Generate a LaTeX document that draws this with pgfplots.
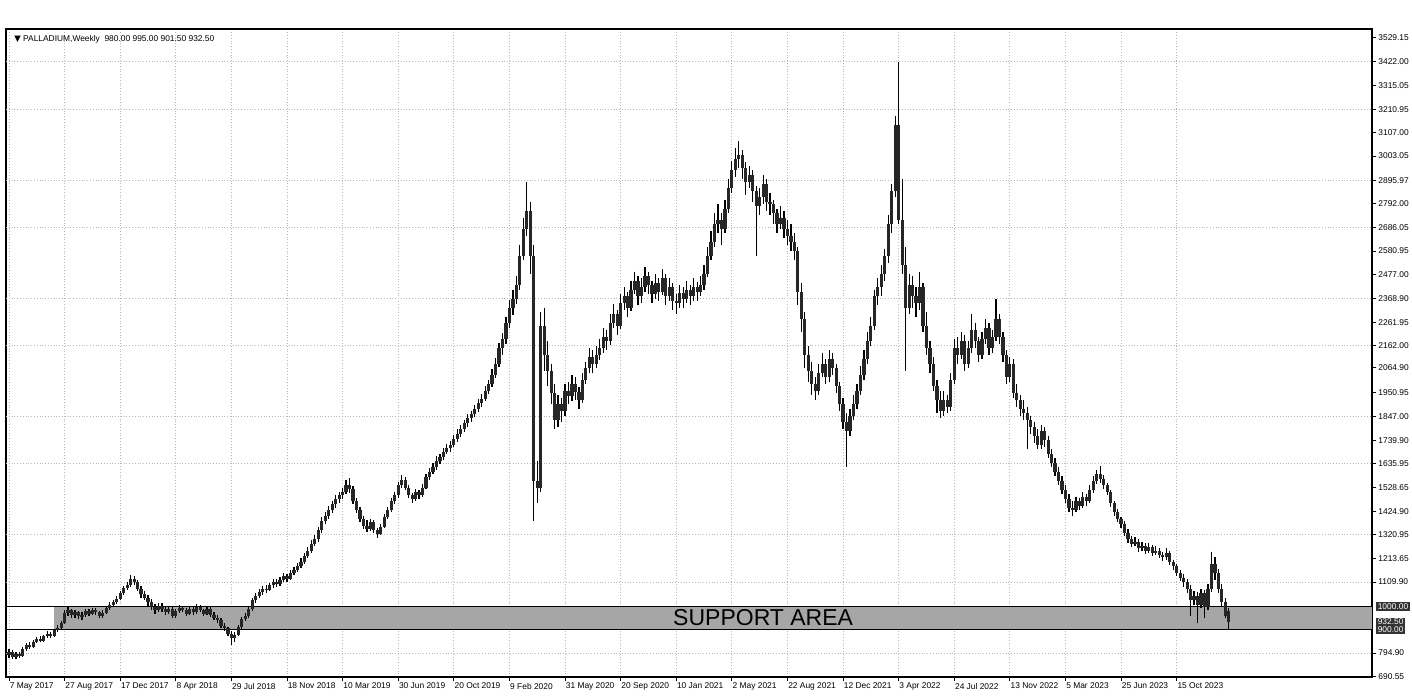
\documentclass[border=0pt]{standalone}
\usepackage{pgfplots}
\usepackage{pgfplotstable}
\pgfplotsset{compat=1.18}
\usepackage{fontspec}
\setmainfont{Liberation Sans}
\newfontfamily\symfont{DejaVu Sans}

% weekly candles: week index (0 = 7 May 2017), open, high, low, close
\pgfplotstableread{
w o h l c
0 785 812 772 800
1 800 808 768 775
2 775 798 770 790
3 790 800 772 782
4 782 820 778 812
5 812 838 805 830
6 830 842 812 822
7 822 852 818 845
8 845 866 838 858
9 858 870 842 850
10 850 876 845 868
11 868 892 860 880
12 880 888 862 872
13 872 902 866 895
14 895 918 888 905
15 905 938 898 930
16 930 985 925 972
17 972 998 960 985
18 985 992 952 965
19 965 984 948 975
20 975 982 945 958
21 958 975 940 962
22 962 992 955 980
23 980 990 958 970
24 970 996 962 985
25 985 994 962 975
26 975 982 948 960
27 960 985 952 972
28 972 1004 966 995
29 995 1022 985 1010
30 1010 1032 1000 1020
31 1020 1046 1012 1035
32 1035 1072 1028 1060
33 1060 1094 1052 1085
34 1085 1112 1075 1098
35 1098 1142 1090 1125
36 1125 1138 1098 1110
37 1110 1118 1070 1080
38 1080 1092 1040 1055
39 1055 1070 1028 1040
40 1040 1052 1005 1020
41 1020 1035 985 1000
42 1000 1012 970 985
43 985 1018 978 1005
44 1005 1015 978 990
45 990 1002 962 975
46 975 1004 968 990
47 990 998 952 960
48 960 992 950 980
49 980 1010 972 995
50 995 1004 975 985
51 985 996 960 970
52 970 1002 962 990
53 990 998 965 975
54 975 1012 968 1000
55 1000 1010 975 985
56 985 992 958 970
57 970 1002 962 990
58 990 998 955 965
59 965 975 940 950
60 950 962 928 940
61 940 950 905 915
62 915 926 892 905
63 905 912 868 880
64 880 892 832 860
65 860 888 845 875
66 875 920 868 910
67 910 955 902 945
68 945 972 935 960
69 960 998 952 990
70 990 1040 982 1030
71 1030 1062 1018 1050
72 1050 1078 1040 1065
73 1065 1092 1052 1080
74 1080 1098 1060 1075
75 1075 1106 1068 1095
76 1095 1122 1085 1110
77 1110 1125 1088 1100
78 1100 1132 1092 1120
79 1120 1148 1110 1135
80 1135 1145 1112 1125
81 1125 1162 1118 1150
82 1150 1178 1140 1165
83 1165 1195 1155 1180
84 1180 1215 1172 1200
85 1200 1238 1190 1225
86 1225 1265 1215 1250
87 1250 1295 1240 1280
88 1280 1318 1268 1300
89 1300 1355 1290 1340
90 1340 1398 1330 1380
91 1380 1422 1368 1405
92 1405 1448 1392 1430
93 1430 1472 1418 1455
94 1455 1498 1440 1480
95 1480 1512 1462 1495
96 1495 1530 1478 1510
97 1510 1565 1500 1540
98 1540 1572 1505 1525
99 1525 1535 1455 1470
100 1470 1482 1415 1430
101 1430 1445 1375 1390
102 1390 1405 1345 1360
103 1360 1385 1332 1345
104 1345 1392 1338 1375
105 1375 1386 1328 1340
106 1340 1352 1305 1325
107 1325 1368 1318 1355
108 1355 1412 1348 1400
109 1400 1445 1390 1430
110 1430 1482 1420 1470
111 1470 1510 1458 1495
112 1495 1555 1485 1540
113 1540 1585 1528 1565
114 1565 1575 1518 1530
115 1530 1542 1482 1495
116 1495 1505 1460 1480
117 1480 1522 1470 1510
118 1510 1520 1478 1495
119 1495 1545 1488 1530
120 1530 1590 1522 1575
121 1575 1615 1565 1600
122 1600 1638 1588 1620
123 1620 1668 1610 1650
124 1650 1680 1635 1665
125 1665 1705 1652 1690
126 1690 1722 1678 1705
127 1705 1738 1690 1720
128 1720 1762 1708 1745
129 1745 1788 1732 1770
130 1770 1808 1755 1790
131 1790 1832 1778 1815
132 1815 1858 1800 1840
133 1840 1872 1822 1855
134 1855 1898 1842 1880
135 1880 1925 1865 1905
136 1905 1945 1888 1925
137 1925 1982 1915 1960
138 1960 2010 1945 1990
139 1990 2055 1978 2030
140 2030 2105 2015 2080
141 2080 2172 2065 2150
142 2150 2215 2120 2190
143 2190 2290 2170 2260
144 2260 2365 2240 2330
145 2330 2410 2295 2370
146 2370 2470 2345 2430
147 2430 2610 2410 2560
148 2560 2730 2540 2680
149 2680 2890 2650 2760
150 2760 2800 2480 2560
151 2560 2610 1380 1560
152 1560 1650 1460 1530
153 1530 2310 1510 2250
154 2250 2330 2050 2120
155 2120 2180 1980 2050
156 2050 2080 1900 1950
157 1950 1990 1790 1830
158 1830 1940 1800 1900
159 1900 1930 1820 1870
160 1870 1990 1850 1960
161 1960 2000 1900 1935
162 1935 2030 1915 1990
163 1990 2020 1920 1955
164 1955 1975 1880 1920
165 1920 2040 1905 2010
166 2010 2090 1990 2060
167 2060 2150 2040 2110
168 2110 2140 2040 2080
169 2080 2160 2060 2120
170 2120 2190 2095 2150
171 2150 2240 2130 2200
172 2200 2230 2140 2180
173 2180 2300 2165 2260
174 2260 2345 2240 2300
175 2300 2320 2210 2250
176 2250 2390 2235 2350
177 2350 2420 2320 2380
178 2380 2400 2290 2330
179 2330 2450 2315 2410
180 2410 2490 2390 2450
181 2450 2470 2340 2380
182 2380 2460 2350 2420
183 2420 2510 2400 2470
184 2470 2490 2390 2430
185 2430 2450 2350 2390
186 2390 2480 2370 2440
187 2440 2460 2360 2400
188 2400 2500 2385 2460
189 2460 2480 2340 2380
190 2380 2460 2360 2420
191 2420 2440 2320 2360
192 2360 2390 2300 2350
193 2350 2430 2330 2395
194 2395 2420 2330 2370
195 2370 2450 2350 2410
196 2410 2430 2340 2380
197 2380 2460 2360 2420
198 2420 2445 2360 2400
199 2400 2470 2380 2430
200 2430 2520 2410 2480
201 2480 2600 2465 2560
202 2560 2670 2540 2620
203 2620 2750 2600 2700
204 2700 2790 2660 2720
205 2720 2750 2610 2680
206 2680 2810 2660 2770
207 2770 2900 2750 2860
208 2860 2980 2840 2940
209 2940 3040 2910 2990
210 2990 3070 2950 3010
211 3010 3030 2900 2950
212 2950 2975 2830 2890
213 2890 2960 2860 2920
214 2920 2940 2800 2850
215 2850 2870 2560 2780
216 2780 2860 2740 2820
217 2820 2920 2790 2880
218 2880 2900 2760 2800
219 2800 2840 2740 2790
220 2790 2810 2700 2750
221 2750 2770 2660 2700
222 2700 2780 2680 2730
223 2730 2760 2640 2680
224 2680 2720 2610 2650
225 2650 2700 2580 2620
226 2620 2660 2540 2580
227 2580 2600 2340 2400
228 2400 2440 2220 2280
229 2280 2310 2060 2120
230 2120 2160 2000 2050
231 2050 2090 1940 1990
232 1990 2020 1920 1960
233 1960 2080 1940 2040
234 2040 2130 2020 2080
235 2080 2100 1990 2020
236 2020 2140 2000 2100
237 2100 2130 2030 2060
238 2060 2080 1950 1980
239 1980 2000 1870 1900
240 1900 1930 1790 1820
241 1820 1860 1620 1780
242 1780 1880 1760 1850
243 1850 1940 1830 1900
244 1900 1990 1880 1960
245 1960 2070 1940 2030
246 2030 2140 2010 2100
247 2100 2220 2080 2180
248 2180 2290 2160 2250
249 2250 2410 2230 2380
250 2380 2460 2340 2420
251 2420 2520 2380 2480
252 2480 2590 2450 2560
253 2560 2740 2530 2700
254 2700 2880 2660 2850
255 2850 3180 2820 3140
256 3140 3422 2700 2720
257 2720 2900 2480 2520
258 2520 2600 2050 2330
259 2330 2480 2300 2430
260 2430 2470 2330 2380
261 2380 2420 2290 2350
262 2350 2490 2320 2420
263 2420 2440 2220 2250
264 2250 2310 2120 2150
265 2150 2180 2040 2080
266 2080 2110 1960 1980
267 1980 2010 1860 1920
268 1920 1960 1840 1870
269 1870 1960 1850 1920
270 1920 1940 1860 1890
271 1890 2040 1870 2010
272 2010 2190 1990 2150
273 2150 2200 2080 2120
274 2120 2220 2100 2180
275 2180 2210 2050 2080
276 2080 2180 2060 2150
277 2150 2300 2130 2230
278 2230 2260 2150 2180
279 2180 2200 2090 2120
280 2120 2220 2100 2190
281 2190 2280 2170 2240
282 2240 2260 2120 2150
283 2150 2230 2130 2200
284 2200 2370 2180 2280
285 2280 2300 2170 2200
286 2200 2220 2090 2120
287 2120 2140 1990 2020
288 2020 2110 2000 2080
289 2080 2100 1930 1950
290 1950 1990 1890 1920
291 1920 1940 1850 1880
292 1880 1920 1830 1860
293 1860 1890 1700 1830
294 1830 1850 1770 1800
295 1800 1820 1730 1760
296 1760 1790 1700 1720
297 1720 1810 1700 1780
298 1780 1800 1710 1740
299 1740 1760 1660 1680
300 1680 1700 1620 1640
301 1640 1660 1580 1600
302 1600 1620 1540 1560
303 1560 1580 1500 1520
304 1520 1540 1460 1480
305 1480 1500 1420 1440
306 1440 1470 1405 1430
307 1430 1490 1420 1470
308 1470 1485 1430 1450
309 1450 1510 1440 1490
310 1490 1500 1450 1470
311 1470 1540 1460 1520
312 1520 1580 1505 1560
313 1560 1610 1545 1590
314 1590 1625 1550 1570
315 1570 1585 1525 1540
316 1540 1550 1495 1510
317 1510 1520 1445 1460
318 1460 1470 1405 1420
319 1420 1435 1375 1390
320 1390 1400 1350 1370
321 1370 1380 1315 1330
322 1330 1345 1285 1300
323 1300 1315 1265 1280
324 1280 1310 1268 1290
325 1290 1300 1245 1260
326 1260 1290 1250 1270
327 1270 1282 1235 1250
328 1250 1285 1240 1265
329 1265 1275 1225 1240
330 1240 1268 1230 1250
331 1250 1260 1215 1230
332 1230 1245 1205 1220
333 1220 1262 1210 1240
334 1240 1250 1185 1200
335 1200 1210 1165 1180
336 1180 1190 1135 1150
337 1150 1165 1115 1130
338 1130 1145 1090 1110
339 1110 1125 1060 1080
340 1080 1095 960 1030
341 1030 1070 1010 1050
342 1050 1065 930 1010
343 1010 1080 995 1060
344 1060 1075 950 1000
345 1000 1100 985 1080
346 1080 1245 1065 1190
347 1190 1220 1120 1150
348 1150 1170 1060 1080
349 1080 1100 1000 1020
350 1020 1040 950 960
351 980 995 901.5 932.5
}\pdata

\begin{document}
\begin{tikzpicture}
\useasboundingbox (0,0) rectangle (706pt,349.5pt);
\begin{axis}[
    at={(3pt,11pt)}, anchor=south west,
    scale only axis, width=683pt, height=324pt,
    xmin=-0.86, xmax=392.2, ymin=688, ymax=3568,
    clip mode=individual,
    axis line style={line width=0.6pt},
    tick align=outside, major tick length=2.2pt,
    tick style={line width=0.4pt, black},
    xtick pos=bottom, ytick pos=right, yticklabel pos=right,
    xtick={0,16,...,336},
    xticklabels={7 May 2017, 27 Aug 2017, 17 Dec 2017, 8 Apr 2018, 29 Jul 2018,
        18 Nov 2018, 10 Mar 2019, 30 Jun 2019, 20 Oct 2019, 9 Feb 2020,
        31 May 2020, 20 Sep 2020, 10 Jan 2021, 2 May 2021, 22 Aug 2021,
        12 Dec 2021, 3 Apr 2022, 24 Jul 2022, 13 Nov 2022, 5 Mar 2023,
        25 Jun 2023, 15 Oct 2023},
    xticklabel style={anchor=north west, inner sep=0.6pt, xshift=-0.4pt,
        font=\fontsize{4.2}{5}\selectfont},
    ytick={690.55,794.9,1109.9,1213.65,1320.95,1424.9,1528.65,1635.95,1739.9,
        1847,1950.95,2064.9,2162,2261.95,2368.9,2477,2580.95,2686.05,2792,
        2895.97,3003.05,3107,3210.95,3315.05,3422,3529.15},
    yticklabels={690.55,794.90,1109.90,1213.65,1320.95,1424.90,1528.65,1635.95,1739.90,
        1847.00,1950.95,2064.90,2162.00,2261.95,2368.90,2477.00,2580.95,2686.05,2792.00,
        2895.97,3003.05,3107.00,3210.95,3315.05,3422.00,3529.15},
    yticklabel style={anchor=west, inner sep=0.8pt, font=\fontsize{4.2}{5}\selectfont},
    xmajorgrids,
    major x grid style={densely dotted, gray!55, line width=0.4pt},
]
% horizontal dotted grid
\pgfplotsinvokeforeach{794.9,1109.9,1320.95,1635.95,1847,2162,2368.9,2686.05,2895.97,3210.95,3422}{
  \draw[densely dotted, gray!55, line width=0.4pt] (axis cs:-0.86,#1) -- (axis cs:392.2,#1);
}
% support band 900-1000
\fill[black!35] (axis cs:13,900) rectangle (axis cs:392.2,1000);
\draw[line width=0.7pt] (axis cs:-0.86,1000) -- (axis cs:392.2,1000);
\draw[line width=0.7pt] (axis cs:-0.86,900) -- (axis cs:392.2,900);
\node[font=\fontsize{11.5}{12}\selectfont, inner sep=0pt] at (axis cs:217,950) {SUPPORT AREA};

% wicks
\addplot[draw=none, mark=none, forget plot,
    error bars/.cd, y dir=minus, y explicit, error mark=none,
    error bar style={draw=black, solid, line width=0.6pt}]
  table[x=w, y=h, y error minus expr=\thisrow{h}-\thisrow{l}] {\pdata};
% bodies
\addplot[draw=none, mark=none, forget plot,
    error bars/.cd, y dir=minus, y explicit, error mark=none,
    error bar style={draw=black!85, solid, line width=1.6pt}]
  table[x=w, y expr={max(\thisrow{o},\thisrow{c})},
        y error minus expr={max(abs(\thisrow{o}-\thisrow{c}),6)}] {\pdata};

% price labels on the right
\node[fill=black!80, text=white, anchor=west, inner sep=0.7pt, xshift=2pt,
      font=\fontsize{4.2}{5}\selectfont] at (axis cs:392.2,1000) {1000.00};
\node[fill=black!80, text=white, anchor=west, inner sep=0.7pt, xshift=2pt,
      font=\fontsize{4.2}{5}\selectfont] at (axis cs:392.2,932.5) {932.50};
\node[fill=black!80, text=white, anchor=west, inner sep=0.7pt, xshift=2pt,
      font=\fontsize{4.2}{5}\selectfont] at (axis cs:392.2,900) {900.00};

% symbol header
\node[anchor=north west, inner sep=0pt, xshift=4pt, yshift=-3pt,
      font=\fontsize{4.2}{5}\selectfont] at (rel axis cs:0,1)
  {{\symfont ▼} PALLADIUM,Weekly\ \ 980.00 995.00 901.50 932.50};
\end{axis}
\end{tikzpicture}
\end{document}
